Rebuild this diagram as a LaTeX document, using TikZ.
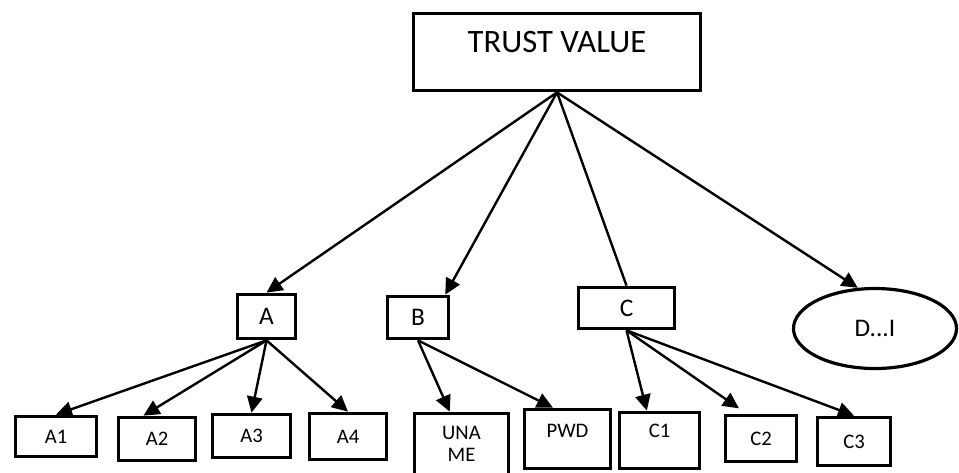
\documentclass[tikz,border=0pt]{standalone}
\usepackage{fontspec}
\setmainfont{Carlito}
\usetikzlibrary{arrows.meta,shapes.geometric}

\tikzset{every picture/.style={line width=0.75pt}}
\tikzset{
  box/.style={draw, rectangle, line width=2.8pt, inner sep=0pt, align=center},
  leaf/.style={box, font=\fontsize{15.5}{17}\selectfont},
  mid/.style={box, font=\fontsize{19}{20}\selectfont},
  link/.style={line width=1.8pt, -{Triangle[length=12pt,width=11.5pt]}}
}

\begin{document}
\begin{tikzpicture}[x=0.75pt,y=0.75pt,yscale=-1,xscale=1]
\useasboundingbox (0,0) rectangle (959,472);

%Root
\node [box, font=\fontsize{24.5}{26}\selectfont, minimum width=215.25pt, minimum height=57.75pt, text depth=15pt] (tv) at (557,52) {TRUST VALUE};

%Second level
\node [mid, minimum width=43.5pt, minimum height=33pt] (a) at (266.5,316.5) {A};
\node [mid, minimum width=45.75pt, minimum height=31.5pt] (b) at (418,317.5) {B};
\node [mid, minimum width=72pt, minimum height=30.75pt] (c) at (626.5,308) {C};
\node [mid, ellipse, line width=2.4pt, minimum width=122.25pt, minimum height=60pt] (d) at (875,328.5) {D...I};

%Leaves
\node [leaf, minimum width=60.75pt, minimum height=30pt] (a1) at (56,436.5) {A1};
\node [leaf, minimum width=57.75pt, minimum height=32.25pt] (a2) at (157,439) {A2};
\node [leaf, minimum width=58.5pt, minimum height=32.25pt] (a3) at (251.5,436) {A3};
\node [leaf, minimum width=57.75pt, minimum height=34.5pt] (a4) at (348,436.5) {A4};
\node [leaf, minimum width=70.5pt, minimum height=45.75pt] (uname) at (461.5,444) {UNA\\ME};
\node [leaf, minimum width=64.5pt, minimum height=44.25pt, text depth=12pt] (pwd) at (567.5,439) {PWD};
\node [leaf, minimum width=60pt, minimum height=42pt, text depth=15pt] (c1) at (659.5,440.5) {C1};
\node [leaf, minimum width=53.25pt, minimum height=34.5pt] (c2) at (761,438.5) {C2};
\node [leaf, minimum width=54.75pt, minimum height=36pt] (c3) at (854,441.5) {C3};

%Arrows from root
\draw [link] (tv.south) -- (a.north);
\draw [link] (tv.south) -- (b.40);
\draw [line width=1.8pt] (tv.south) -- (c.north);
\draw [link] (tv.south) -- (d.113);

%Arrows to leaves
\draw [link] (a.south) -- (a1.north);
\draw [link] (a.south) -- (a2.120);
\draw [link] (a.south) -- (a3.north);
\draw [link] (a.south) -- (a4.north);
\draw [link] (b.south) -- (uname.110);
\draw [link] (b.south) -- (pwd.115);
\draw [link] (c.south) -- (c1.113);
\draw [link, shorten >=7pt] (c.south) -- (c2.120);
\draw [link] (c.south) -- (c3.north);

\end{tikzpicture}
\end{document}
